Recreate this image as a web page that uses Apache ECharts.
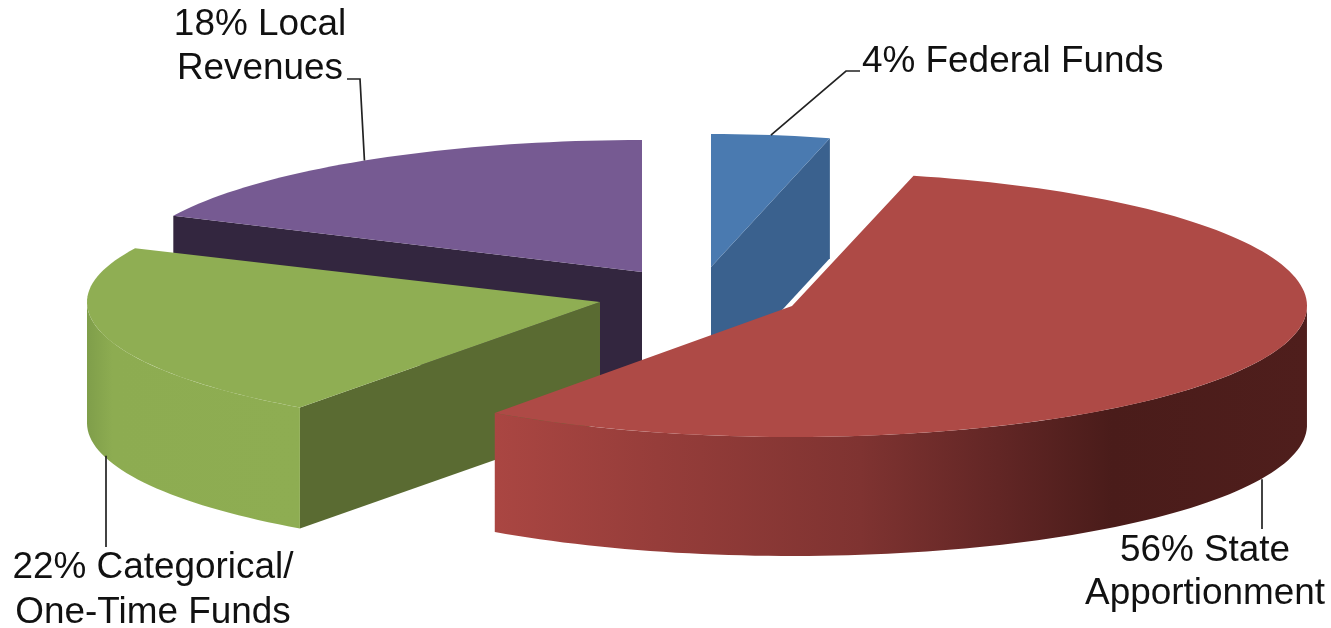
<!DOCTYPE html>
<html><head><meta charset="utf-8">
<style>html,body{margin:0;padding:0;background:#fff}#c{width:1331px;height:628px}</style>
<script src="https://cdn.jsdelivr.net/npm/echarts@6/dist/echarts.min.js"></script>
</head><body><div id="c"></div>
<script>
// Data
const categories = ['Federal Funds', 'State Apportionment', 'Categorical/ One-Time Funds', 'Local Revenues'];
const shares = [4, 56, 22, 18];
const labelLines = [['4% Federal Funds'], ['56% State', 'Apportionment'], ['22% Categorical/', 'One-Time Funds'], ['18% Local', 'Revenues']];

// Layout and style: the picture's slightly perspective ellipse, per slice
const apexes = [[711, 267], [792, 306], [600, 302], [642, 272]];
const radiiX = [478, 515, 513, 518];
const radiiBack = [133, 134, 127, 132];
const radiiFront = [133, 131, 130, 132];
const twists = [0, -0.75, -0.2, 0];
const depths = [120, 119, 121, 120];
const paintOrder = [3, 0, 2, 1];
const topColors = ['#4A7AB0', '#AE4A46', '#8FAE53', '#765A92'];
const faceColors = ['#3A618E', '#AE4A46', '#5A6B32', '#33263F'];
const wallStops = [
  [[0, '#3A618E'], [1, '#3A618E']],
  [[0, '#AA4642'], [0.2, '#963D3A'], [0.45, '#7F3331'], [0.62, '#622625'], [0.76, '#4A1C1A'], [1, '#4F1E1C']],
  [[0, '#7F9E4A'], [0.12, '#8DAC51'], [1, '#8EAD52']],
  [[0, '#33263F'], [1, '#33263F']]
];
const leaderPaths = [[[846, 71], [860, 71]], [[1262, 529]], [[106, 547]], [[360, 79], [347, 79]]];
const verticalLeader = [false, true, true, false];
const labelAnchors = [[862, 62, 'left'], [1205, 551, 'center'], [153, 568, 'center'], [260, 25, 'center']];
const lineGap = [0, 43, 45, 44];
const FONT = '36.9px "Liberation Sans", Arial, sans-serif';

const total = shares.reduce((a, b) => a + b, 0);
const startAngles = [];
shares.reduce((acc, v, i) => { startAngles[i] = acc; return acc + v / total * 360; }, 0);
const rad = d => d * Math.PI / 180;
const rim = (i, deg) => {
  const t = rad(deg + twists[i]), c = Math.cos(t);
  return [apexes[i][0] + radiiX[i] * Math.sin(t), apexes[i][1] - (c > 0 ? radiiBack[i] : radiiFront[i]) * c];
};
const arc = (i, a, b) => {
  const out = [], n = Math.max(2, Math.ceil(Math.abs(b - a) / 1.5));
  for (let k = 0; k <= n; k++) out.push(rim(i, a + (b - a) * k / n));
  return out;
};
const drop = (p, d) => [p[0], p[1] + d];

function renderItem(params, api) {
  const i = api.value(0);
  const a = startAngles[i], b = a + shares[i] / total * 360, d = depths[i];
  const kids = [];
  const poly = (points, fill) => kids.push({ type: 'polygon', shape: { points }, style: { fill, stroke: null }, silent: true });
  const addFace = deg => {
    const ap = apexes[i], r = rim(i, deg);
    poly([ap, r, drop(r, d), drop(ap, d)], faceColors[i]);
  };
  if (i === 0) addFace(b);
  if (i === 2) addFace(a);
  if (i === 3) addFace(a);
  const w0 = Math.max(a, 90), w1 = Math.min(b, 270);
  if (w1 > w0) {
    const top = arc(i, w0, w1);
    const wall = top.concat(top.slice().reverse().map(p => drop(p, d)));
    poly(wall, { type: 'linear', x: 0, y: 0, x2: 1, y2: 0, colorStops: wallStops[i].map(s => ({ offset: s[0], color: s[1] })) });
  }
  poly([apexes[i]].concat(arc(i, a, b)), topColors[i]);
  const mid = (a + b) / 2;
  let start = rim(i, mid);
  if (mid > 90 && mid < 270) start = drop(start, d);
  if (verticalLeader[i]) start = [leaderPaths[i][0][0], start[1]];
  kids.push({ type: 'polyline', shape: { points: [start].concat(leaderPaths[i]) }, style: { stroke: '#222', lineWidth: 1.7, fill: null }, silent: true, z2: 5 });
  labelLines[i].forEach((t, k) => {
    const L = labelAnchors[i];
    kids.push({ type: 'text', style: { text: t, x: L[0], y: L[1] + k * lineGap[i], font: FONT, fill: '#111', align: L[2], verticalAlign: 'middle' }, silent: true, z2: 6 });
  });
  return { type: 'group', children: kids };
}

const chart = echarts.init(document.getElementById('c'), null, { renderer: 'canvas' });
chart.setOption({
  backgroundColor: '#fff',
  animation: false,
  series: [{
    type: 'custom',
    coordinateSystem: 'none',
    renderItem,
    encode: { value: [0, 1] },
    data: paintOrder.map(i => ({ name: categories[i], value: [i, shares[i]] }))
  }]
});
</script></body></html>
